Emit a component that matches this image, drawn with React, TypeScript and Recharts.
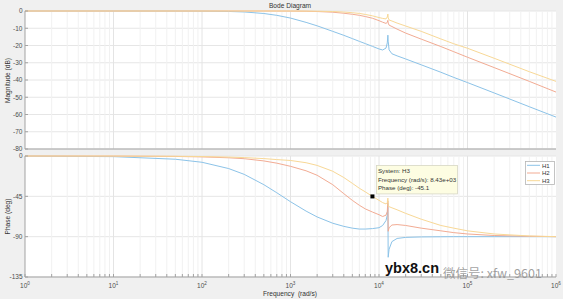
import React from "react";
import { CartesianGrid, Line, LineChart, ReferenceDot, ReferenceLine, XAxis, YAxis } from "recharts";

// frequency grid (rad/s), shared by every series
const freq = [
  1, 10, 50, 100, 200, 300, 500, 700, 1000, 1500, 2000, 3000, 4000, 5000, 6000, 7000, 8430, 10000, 11000,
  12000, 12400, 12600, 12700, 13000, 14000, 16000, 20000, 30000, 50000, 70000, 100000, 200000, 500000, 1000000,
];

// magnitude (dB)
const h1Mag = [
  0, 0, -0.02, -0.07, -0.26, -0.56, -1.45, -2.5, -4.1, -6.6, -8.6, -11.8, -14.1, -16, -17.6, -18.9, -20.5, -22,
  -22.6, -21.5, -18.5, -14, -17.5, -22.5, -24.8, -26, -27.8, -31.2, -35.5, -38.5, -41.5, -47.5, -55.5, -61.5,
];
const h2Mag = [
  0, 0, 0, 0, 0, 0, 0, -0.03, -0.06, -0.15, -0.3, -0.7, -1.3, -1.9, -2.5, -3.2, -4.2, -5.6, -6.5, -7.2, -6.6,
  -5.4, -7, -8.2, -9, -10.5, -12.8, -16.3, -20.6, -23.6, -26.8, -32.8, -40.8, -47,
];
const h3Mag = [
  0, 0, 0, 0, 0, 0, 0, 0, 0, -0.05, -0.1, -0.3, -0.6, -1, -1.4, -2, -2.8, -3.8, -4.3, -4.6, -3.5, -1.8, -4,
  -5.2, -5.8, -7, -8.7, -11.8, -16.2, -19, -21.6, -27.4, -35.2, -40.8,
];

// phase (deg)
const h1Phase = [
  -0.1, -0.7, -3.6, -7, -14, -20.5, -32, -41, -51, -61.5, -68, -75, -78.5, -80.5, -81.5, -81.5, -81, -80, -77.5,
  -72, -66, -53, -113, -104, -95.5, -92, -90.8, -90.3, -90.1, -90, -90, -90, -90, -90,
];
const h2Phase = [
  0, -0.1, -0.5, -1, -2, -3, -5.5, -8, -11.5, -16.5, -21.5, -32, -42, -49.5, -55, -59, -62.5, -65.5, -67.5, -66,
  -62, -50, -84, -80, -77, -76.5, -77.5, -80.5, -83.5, -85.5, -87, -88.7, -89.6, -90,
];
const h3Phase = [
  0, -0.05, -0.3, -0.6, -1.2, -1.8, -2.9, -4, -5, -7.5, -10.5, -17, -24, -30.5, -36, -40, -45.1, -49.5, -52,
  -53.5, -52, -47, -56, -56.5, -57.8, -60, -64, -70.5, -77.5, -80.5, -83.5, -87, -89.2, -90,
];

const seriesNames = ["H1", "H2", "H3"];
const seriesColors = ["#8cc3e8", "#f2ab93", "#f8d896"];

const decadeTicks = [1, 10, 100, 1000, 10000, 100000, 1000000];
const minorTicks = decadeTicks.slice(0, -1).flatMap((d) => [2, 3, 4, 5, 6, 7, 8, 9].map((m) => m * d));
const allTicks = [...decadeTicks, ...minorTicks].sort((a, b) => a - b);
const magTicks = [0, -10, -20, -30, -40, -50, -60, -70, -80];
const phaseTicks = [0, -45, -90, -135];

const tipSystem = "H3";
const tipFreq = 8430;
const tipFreqText = "8.43e+03";
const tipPhase = -45.1;

const magData = freq.map((f, i) => ({ f, H1: h1Mag[i], H2: h2Mag[i], H3: h3Mag[i] }));
const phaseData = freq.map((f, i) => ({ f, H1: h1Phase[i], H2: h2Phase[i], H3: h3Phase[i] }));

const FONT = "'Liberation Sans', Arial, Helvetica, sans-serif";
const AXIS = "#a3a3a3";
const LABEL = "#4d4d4d";

function DecadeTick(props: any) {
  const { x, y, payload } = props;
  const exp = decadeTicks.indexOf(payload.value);
  if (exp < 0) return null;
  return (
    <text x={x} y={y} textAnchor="middle" fontSize={6.5} fill={LABEL} fontFamily={FONT}>
      10
      <tspan dy={-3} fontSize={4.6}>
        {exp}
      </tspan>
    </text>
  );
}

function DataTip(props: any) {
  const { cx, cy } = props;
  return (
    <g>
      <rect x={cx - 2} y={cy - 2} width={4} height={4} fill="#000" />
      <rect x={cx + 4} y={cy - 31} width={81} height={28.5} fill="#fdfde2" stroke="#d6d6c4" strokeWidth={0.8} />
      <g fontSize={6.2} fill="#333" fontFamily={FONT}>
        <text x={cx + 5.5} y={cy - 23}>System: {tipSystem}</text>
        <text x={cx + 5.5} y={cy - 14.7}>Frequency (rad/s): {tipFreqText}</text>
        <text x={cx + 5.5} y={cy - 6.4}>Phase (deg): {tipPhase}</text>
      </g>
    </g>
  );
}

function BodePanel({ data, yDomain, yTicks, top, height, bottomHeight, showXLabels, children }: any) {
  return (
    <div style={{ position: "absolute", left: 0, top }}>
      <LineChart width={563} height={height} data={data} margin={{ top: 11, right: 7, bottom: 0, left: 0 }}>
        <CartesianGrid vertical={false} fill="#ffffff" stroke="#e6e6e6" />
        {minorTicks.map((v) => (
          <ReferenceLine key={`m${v}`} x={v} stroke="#f1f1f1" />
        ))}
        {decadeTicks.slice(1, -1).map((v) => (
          <ReferenceLine key={`d${v}`} x={v} stroke="#e4e4e4" />
        ))}
        <XAxis
          dataKey="f"
          type="number"
          scale="log"
          domain={[1, 1000000]}
          ticks={allTicks}
          interval={0}
          height={bottomHeight}
          tickSize={-3}
          tickMargin={14}
          stroke={AXIS}
          tick={showXLabels ? <DecadeTick /> : false}
        />
        <XAxis
          xAxisId="top"
          orientation="top"
          dataKey="f"
          type="number"
          scale="log"
          domain={[1, 1000000]}
          ticks={allTicks}
          interval={0}
          height={0}
          tickSize={-3}
          stroke={AXIS}
          tick={false}
        />
        <YAxis
          type="number"
          domain={yDomain}
          ticks={yTicks}
          interval={0}
          width={25}
          tickSize={-3}
          tickMargin={5.5}
          stroke={AXIS}
          tick={{ fontSize: 6.5, fill: LABEL, fontFamily: FONT }}
        />
        <YAxis
          yAxisId="right"
          orientation="right"
          type="number"
          domain={yDomain}
          ticks={yTicks}
          interval={0}
          width={0}
          tickSize={-3}
          stroke={AXIS}
          tick={false}
        />
        {seriesNames.map((name, i) => (
          <Line
            key={name}
            dataKey={name}
            stroke={seriesColors[i]}
            strokeWidth={1}
            dot={false}
            activeDot={false}
            type="linear"
            isAnimationActive={false}
          />
        ))}
        {children}
      </LineChart>
    </div>
  );
}

export default function App() {
  return (
    <div
      style={{
        position: "fixed",
        left: 0,
        top: 0,
        width: 563,
        height: 299,
        background: "#f0f0f0",
        overflow: "hidden",
        fontFamily: FONT,
      }}
    >
      <BodePanel data={magData} yDomain={[-80, 0]} yTicks={magTicks} top={0} height={160} bottomHeight={11} showXLabels={false} />
      <BodePanel data={phaseData} yDomain={[-135, 0]} yTicks={phaseTicks} top={145} height={154} bottomHeight={22} showXLabels>
        <ReferenceDot x={tipFreq} y={tipPhase} r={2} shape={<DataTip />} />
      </BodePanel>
      <svg width={563} height={299} style={{ position: "absolute", left: 0, top: 0, pointerEvents: "none" }}>
        <text x={290} y={7.5} textAnchor="middle" fontSize={6.6} fill="#333" fontFamily={FONT}>
          Bode Diagram
        </text>
        <text transform="translate(10,80.5) rotate(-90)" textAnchor="middle" fontSize={6.6} fill="#333" fontFamily={FONT}>
          Magnitude (dB)
        </text>
        <text transform="translate(10,216.5) rotate(-90)" textAnchor="middle" fontSize={6.6} fill="#333" fontFamily={FONT}>
          Phase (deg)
        </text>
        <text x={290} y={296} textAnchor="middle" fontSize={6.6} fill="#333" fontFamily={FONT} xmlSpace="preserve">
          Frequency  (rad/s)
        </text>
        <g>
          <rect x={525.5} y={161.5} width={29} height={23} fill="#ffffff" stroke="#b5b5b5" strokeWidth={0.8} />
          {seriesNames.map((name, i) => (
            <g key={name}>
              <line x1={527} x2={540} y1={165.3 + i * 7.7} y2={165.3 + i * 7.7} stroke={seriesColors[i]} strokeWidth={1} />
              <text x={542} y={167.5 + i * 7.7} fontSize={6} fill="#333" fontFamily={FONT}>
                {name}
              </text>
            </g>
          ))}
        </g>
        <text x={385} y={272.5} fontSize={14.5} fontWeight="bold" fill="#111" fontFamily={FONT}>
          ybx8.cn
        </text>
        <text x={443} y={278} fontSize={12.5} fill="#8f8f8f" fillOpacity={0.85} fontFamily="'Noto Sans CJK SC', 'Noto Sans', sans-serif">
          微信号: xfw_9601
        </text>
      </svg>
    </div>
  );
}
